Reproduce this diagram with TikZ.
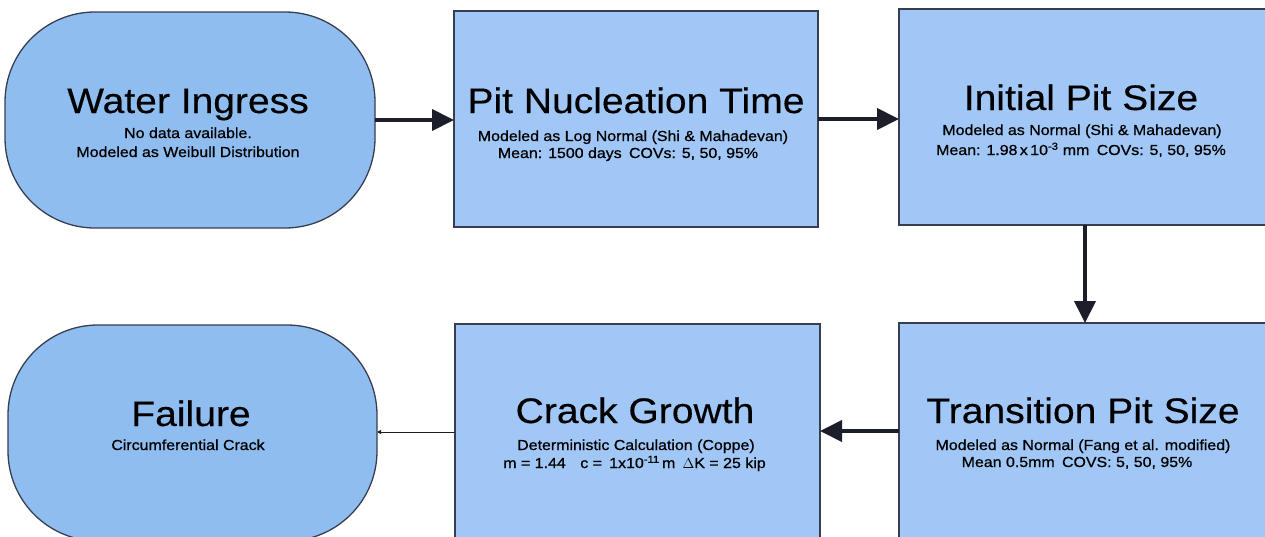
\documentclass[tikz,border=0pt]{standalone}
\usepackage{fontspec}
\setmainfont{Liberation Sans}[FakeStretch=1.12]
\newfontfamily\subfont{Liberation Sans}[FakeStretch=1.1,FakeBold=0.7]
\newfontfamily\ttlfont{Liberation Sans}[FakeStretch=1.1,FakeBold=0.3]
\usetikzlibrary{arrows.meta}
\definecolor{termfill}{RGB}{143,189,240}
\definecolor{boxfill}{RGB}{160,199,245}
\definecolor{boxline}{RGB}{55,62,80}
\definecolor{arrowc}{RGB}{28,30,42}
\begin{document}
\begin{tikzpicture}[x=1pt,y=-1pt,
  term/.style={draw=boxline, line width=1.3pt, fill=termfill, rounded corners=90pt, inner sep=0pt, outer sep=0pt},
  proc/.style={draw=boxline, line width=1.3pt, fill=boxfill, inner sep=0pt, outer sep=0pt},
  ttl/.style={anchor=base, inner sep=0pt, font=\ttlfont\fontsize{35.5}{40}\selectfont},
  sub/.style={anchor=base, inner sep=0pt, font=\subfont\fontsize{14.5}{17}\selectfont},
  flow/.style={draw=arrowc, line width=4pt, -{Triangle[length=22pt,width=21pt]}},
  thinflow/.style={draw=arrowc, line width=1pt, -{Triangle[length=4pt,width=4pt]}}]
\useasboundingbox (0,0) rectangle (1265,536);
\clip (0,0) rectangle (1265,536);
% shapes
\node[term, minimum width=370pt, minimum height=216pt] (water) at (190,120) {};
\node[proc, minimum width=364pt, minimum height=216pt] (nucl) at (636,119) {};
\node[proc, minimum width=372pt, minimum height=216pt] (init) at (1085,117) {};
\node[proc, minimum width=372pt, minimum height=216pt] (trans) at (1085,431) {};
\node[proc, minimum width=365pt, minimum height=216pt] (crack) at (637.5,432) {};
\node[term, minimum width=369pt, minimum height=216pt] (fail) at (192.5,433) {};
% connectors
\draw[flow] (water.east) -- (water.east -| nucl.west);
\draw[flow] (nucl.east) -- (nucl.east -| init.west);
\draw[flow] (init.south) -- (trans.north);
\draw[flow] (trans.west) -- (trans.west -| crack.east);
\draw[thinflow] (crack.west) -- (crack.west -| fail.east);
% texts
\node[ttl] (waterT) at (188,113) {Water Ingress};
\node[sub] (waterA) at (188,138) {No data available.};
\node[sub] (waterB) at (188,157) {Modeled as Weibull Distribution};
\node[ttl] (nuclT) at (636,113) {Pit Nucleation Time};
\node[sub] (nuclA) at (633,141) {Modeled as Log Normal (Shi \& Mahadevan)};
\node[sub] (nuclB) at (628,158) {Mean: 1500 days\enspace COVs: 5, 50, 95\%};
\node[ttl] (initT) at (1081,110) {Initial Pit Size};
\node[sub] (initA) at (1082,135) {Modeled as Normal (Shi \& Mahadevan)};
\node[sub] (initB) at (1081,155) {Mean: 1.98\,x\,10\textsuperscript{-3} mm\enspace COVs: 5, 50, 95\%};
\node[ttl] (transT) at (1083,423) {Transition Pit Size};
\node[sub] (transA) at (1083,450) {Modeled as Normal (Fang et al. modified)};
\node[sub] (transB) at (1077,467) {Mean 0.5mm\enspace COVS: 5, 50, 95\%};
\node[ttl] (crackT) at (635,423) {Crack Growth};
\node[sub] (crackA) at (636,450) {Deterministic Calculation (Coppe)};
\node[sub] (crackB) at (634.5,468) {m = 1.44\quad c =\enspace 1x10\textsuperscript{-11}\,m\enspace $\Delta$K = 25 kip};
\node[ttl] (failT) at (191,426) {Failure};
\node[sub] (failA) at (188,450) {Circumferential Crack};
\end{tikzpicture}
\end{document}
